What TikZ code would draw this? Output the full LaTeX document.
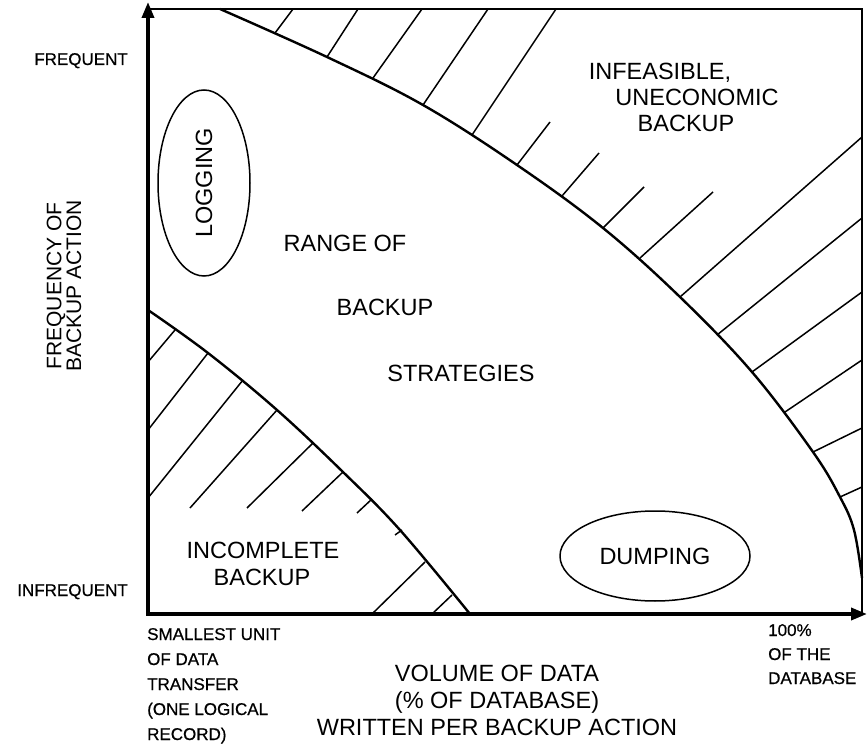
\documentclass[tikz,border=0pt]{standalone}
\usepackage{fontspec}
\setmainfont{Liberation Sans}
\newfontfamily\heavier{Liberation Sans}[FakeBold=0.6]
\usetikzlibrary{arrows.meta,shapes.geometric}
\begin{document}
\begin{tikzpicture}[x=1pt,y=-1pt,
  axisline/.style={line width=3.6pt,line join=miter},
  frameline/.style={line width=1.8pt},
  boundline/.style={line width=2.4pt},
  hatchline/.style={line width=1.5pt},
  blob/.style={draw,ellipse,line width=1.5pt,inner sep=0pt},
  big/.style={font=\fontsize{23.5}{26}\selectfont,inner sep=0pt},
  mid/.style={font=\fontsize{23.5}{26}\selectfont,inner sep=0pt},
  small/.style={font=\heavier\fontsize{17}{20}\selectfont,inner sep=0pt}
]
\useasboundingbox (0,0) rectangle (868,746);

% frame
\draw[frameline] (148,9) -- (862,9) -- (862,614);
% axes
\draw[axisline,{Triangle[length=16pt,width=12pt]}-{Triangle[length=16pt,width=12pt]}] (148,2) -- (148,614) -- (867,614);

% upper boundary
\draw[boundline] plot[smooth,tension=0.6] coordinates
  {(220,9) (327,57) (423,105) (517,165) (603,228) (680,297) (752,372) (813,452) (840,497) (854,530) (862,578)};
% lower boundary
\draw[boundline] plot[smooth,tension=0.6] coordinates
  {(148,310) (208,353) (277,410) (343,472) (400,530) (470,614)};

% hatching, upper band
\foreach \a/\b/\c/\d in {275/33/293/9, 327/57/358/9, 373/78/422/9, 423/105/488/9,
  472/135/556/9, 517/165/550/122, 562/196/599/153, 603/228/644/187, 640/258/713/192,
  680/297/862/137, 717/335/862/218, 752/372/862/292, 785/412/862/360,
  813/452/862/428, 840/497/862/487}
  \draw[hatchline] (\a,\b) -- (\c,\d);
% hatching, lower band
\foreach \a/\b/\c/\d in {175/330/148/362, 208/353/148/430, 243/380/148/498,
  277/410/190/508, 313/443/247/508, 343/472/302/511, 372/499/357/513,
  402/530/395/535, 425/562/372/614, 452/595/432/614}
  \draw[hatchline] (\a,\b) -- (\c,\d);

% ellipses
\node[blob,big,rotate=90,minimum width=186pt,minimum height=92pt] (logging) at (204,183) {LOGGING};
\node[blob,big,minimum width=190pt,minimum height=90pt] (dumping) at (655,556) {DUMPING};

% region labels
\node[big,anchor=base] (range1) at (345,252) {RANGE OF};
\node[big,anchor=base] (range2) at (385,316) {BACKUP};
\node[big,anchor=base] (range3) at (461,381) {STRATEGIES};
\node[big,anchor=base] (inf1) at (660,80) {INFEASIBLE,};
\node[big,anchor=base] (inf2) at (697,106) {UNECONOMIC};
\node[big,anchor=base] (inf3) at (686,132) {BACKUP};
\node[big,anchor=base] (inc1) at (263,558) {INCOMPLETE};
\node[big,anchor=base] (inc2) at (262,585) {BACKUP};

% y axis labels
\node[small,anchor=base east] (freq) at (128,65) {FREQUENT};
\node[small,anchor=base east] (infreq) at (128,596) {INFREQUENT};
\node[font=\fontsize{21}{18}\selectfont,inner sep=0pt,align=center,rotate=90] (ylab) at (64,286) {FREQUENCY OF\\BACKUP ACTION};

% x axis labels
\node[small,anchor=base west] (s1) at (147,640) {SMALLEST UNIT};
\node[small,anchor=base west] (s2) at (147,665) {OF DATA};
\node[small,anchor=base west] (s3) at (147,690) {TRANSFER};
\node[small,anchor=base west] (s4) at (147,715) {(ONE LOGICAL};
\node[small,anchor=base west] (s5) at (147,740) {RECORD)};
\node[mid,anchor=base] (v1) at (497,681) {VOLUME OF DATA};
\node[mid,anchor=base] (v2) at (497,708) {(\% OF DATABASE)};
\node[mid,anchor=base] (v3) at (497,735) {WRITTEN PER BACKUP ACTION};
\node[small,anchor=base west] (h1) at (768,636) {100\%};
\node[small,anchor=base west] (h2) at (768,660) {OF THE};
\node[small,anchor=base west] (h3) at (768,684) {DATABASE};
\end{tikzpicture}
\end{document}
